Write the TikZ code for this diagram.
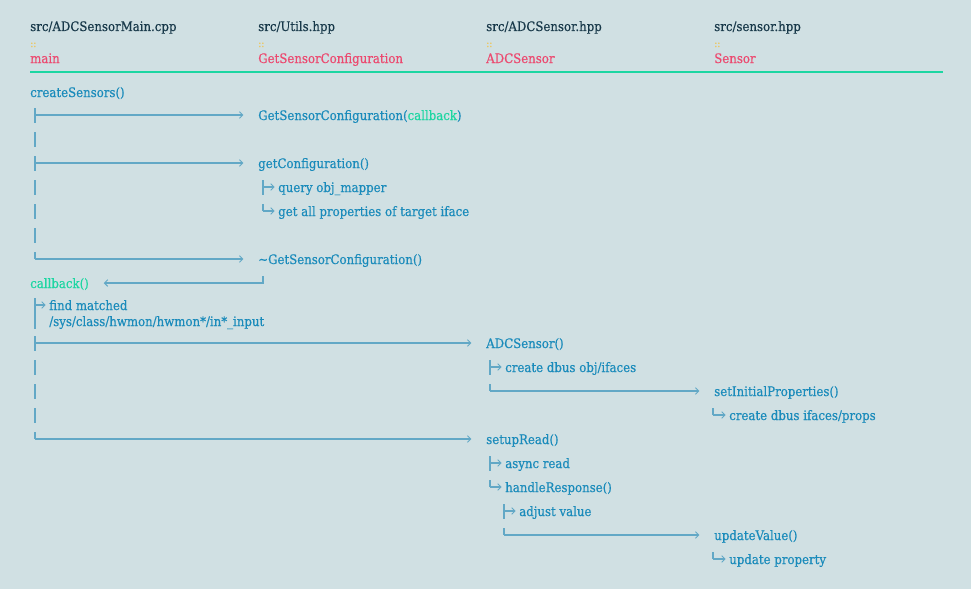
\documentclass[tikz,border=0pt]{standalone}
\usepackage{fontspec}
\setmainfont{DejaVu Serif}[FakeStretch=0.9,FakeBold=0.5]
\usepackage{xcolor}
\usetikzlibrary{arrows.meta}
\definecolor{bgcol}{HTML}{D0E0E3}
\definecolor{filecol}{HTML}{18394A}
\definecolor{funccol}{HTML}{EC4A70}
\definecolor{sepcol}{HTML}{EFC658}
\definecolor{rulecol}{HTML}{1DD6A2}
\definecolor{callcol}{HTML}{1A8BBB}
\definecolor{linecol}{HTML}{62A8C6}
\tikzset{
  lbl/.style={anchor=west,inner sep=0pt,text height=9pt,text depth=1.5pt,font=\fontsize{9.8}{12}\selectfont},
  filelbl/.style={lbl,text=filecol},
  funclbl/.style={lbl,text=funccol},
  seplbl/.style={lbl,text=sepcol,font=\fontsize{7.5}{9}\selectfont},
  calllbl/.style={lbl,text=callcol},
  cblbl/.style={lbl,text=rulecol},
  stub/.style={draw=linecol,line width=1pt},
  trunk/.style={stub,dash pattern=on 11.25pt off 6.75pt},
  callto/.style={stub,-{Straight Barb[length=2.5pt,width=5pt,line width=0.7pt]},shorten >=11pt},
  note/.style={stub,-{Straight Barb[length=2.5pt,width=5pt,line width=0.7pt]},shorten >=2.5pt}
}

\begin{document}
\begin{tikzpicture}[x=0.75pt,y=-0.75pt]
\fill[bgcol] (0,0) rectangle (971,589);
\useasboundingbox (0,0) rectangle (971,589);

\node[filelbl] (f1) at (30,26) {src/ADCSensorMain.cpp};
\node[filelbl] (f2) at (258,26) {src/Utils.hpp};
\node[filelbl] (f3) at (486,26) {src/ADCSensor.hpp};
\node[filelbl] (f4) at (714,26) {src/sensor.hpp};
\node[seplbl] (s1) at (30,42) {::};
\node[seplbl] (s2) at (258,42) {::};
\node[seplbl] (s3) at (486,42) {::};
\node[seplbl] (s4) at (714,42) {::};
\node[funclbl] (m1) at (30,58) {main};
\node[funclbl] (m2) at (258,58) {GetSensorConfiguration};
\node[funclbl] (m3) at (486,58) {ADCSensor};
\node[funclbl] (m4) at (714,58) {Sensor};
\coordinate (rl) at (30,72);
\coordinate (rr) at (943,72);
\draw[rulecol,line width=1.6pt] (rl) -- (rr);

\node[calllbl] (cs) at (30,92) {createSensors()};
\node[calllbl] (gsc) at (258,115) {GetSensorConfiguration(\textcolor{rulecol}{callback})};
\node[calllbl] (gc) at (258,163) {getConfiguration()};
\node[calllbl] (qm) at (278,187) {query obj\_mapper};
\node[calllbl] (gp) at (278,211) {get all properties of target iface};
\node[calllbl] (dt) at (258,259) {\textasciitilde GetSensorConfiguration()};
\node[cblbl] (cb) at (30,283) {callback()};
\node[calllbl] (fm) at (49,305) {find matched};
\node[calllbl] (sp) at (49,321) {/sys/class/hwmon/hwmon*/in*\_input};
\node[calllbl] (ac) at (486,343) {ADCSensor()};
\node[calllbl] (cd) at (505,367) {create dbus obj/ifaces};
\node[calllbl] (si) at (714,391) {setInitialProperties()};
\node[calllbl] (ci) at (729,415) {create dbus ifaces/props};
\node[calllbl] (sr) at (486,439) {setupRead()};
\node[calllbl] (ar) at (505,463) {async read};
\node[calllbl] (hr) at (505,487) {handleResponse()};
\node[calllbl] (av) at (519,511) {adjust value};
\node[calllbl] (uv) at (714,535) {updateValue()};
\node[calllbl] (up) at (729,559) {update property};

\coordinate (t1) at (35,108);
\coordinate (t1a) at (35,115);
\coordinate (t1b) at (35,163);
\coordinate (t1c) at (35,259);
\coordinate (q0) at (263,180);
\coordinate (q1) at (263,187);
\coordinate (q2) at (263,211);
\coordinate (cbf) at (263,276);
\coordinate (fm0) at (35,298);
\coordinate (fm1) at (35,305);
\coordinate (fm2) at (35,329);
\coordinate (t2) at (35,336);
\coordinate (t2a) at (35,343);
\coordinate (t2b) at (35,439);
\coordinate (a0) at (490,360);
\coordinate (a1) at (490,367);
\coordinate (a2) at (490,391);
\coordinate (p0) at (713,408);
\coordinate (p1) at (713,415);
\coordinate (r0) at (490,456);
\coordinate (r1) at (490,463);
\coordinate (r2) at (490,487);
\coordinate (h0) at (504,504);
\coordinate (h1) at (504,511);
\coordinate (h2) at (504,535);
\coordinate (u0) at (713,552);
\coordinate (u1) at (713,559);

\draw[trunk] (t1) -- (t1c);
\draw[callto] (t1a) -- (gsc);
\draw[callto] (t1b) -- (gc);
\draw[callto] (t1c) -- (dt);
\draw[trunk] (q0) -- (q2);
\draw[note] (q1) -- (qm);
\draw[note] (q2) -- (gp);
\draw[callto] (cbf) |- (cb);
\draw[stub] (fm0) -- (fm2);
\draw[note] (fm1) -- (fm);
\draw[trunk] (t2) -- (t2b);
\draw[callto] (t2a) -- (ac);
\draw[callto] (t2b) -- (sr);
\draw[trunk] (a0) -- (a2);
\draw[note] (a1) -- (cd);
\draw[callto] (a2) -- (si);
\draw[stub] (p0) -- (p1);
\draw[note] (p1) -- (ci);
\draw[trunk] (r0) -- (r2);
\draw[note] (r1) -- (ar);
\draw[note] (r2) -- (hr);
\draw[trunk] (h0) -- (h2);
\draw[note] (h1) -- (av);
\draw[callto] (h2) -- (uv);
\draw[stub] (u0) -- (u1);
\draw[note] (u1) -- (up);
\end{tikzpicture}
\end{document}
